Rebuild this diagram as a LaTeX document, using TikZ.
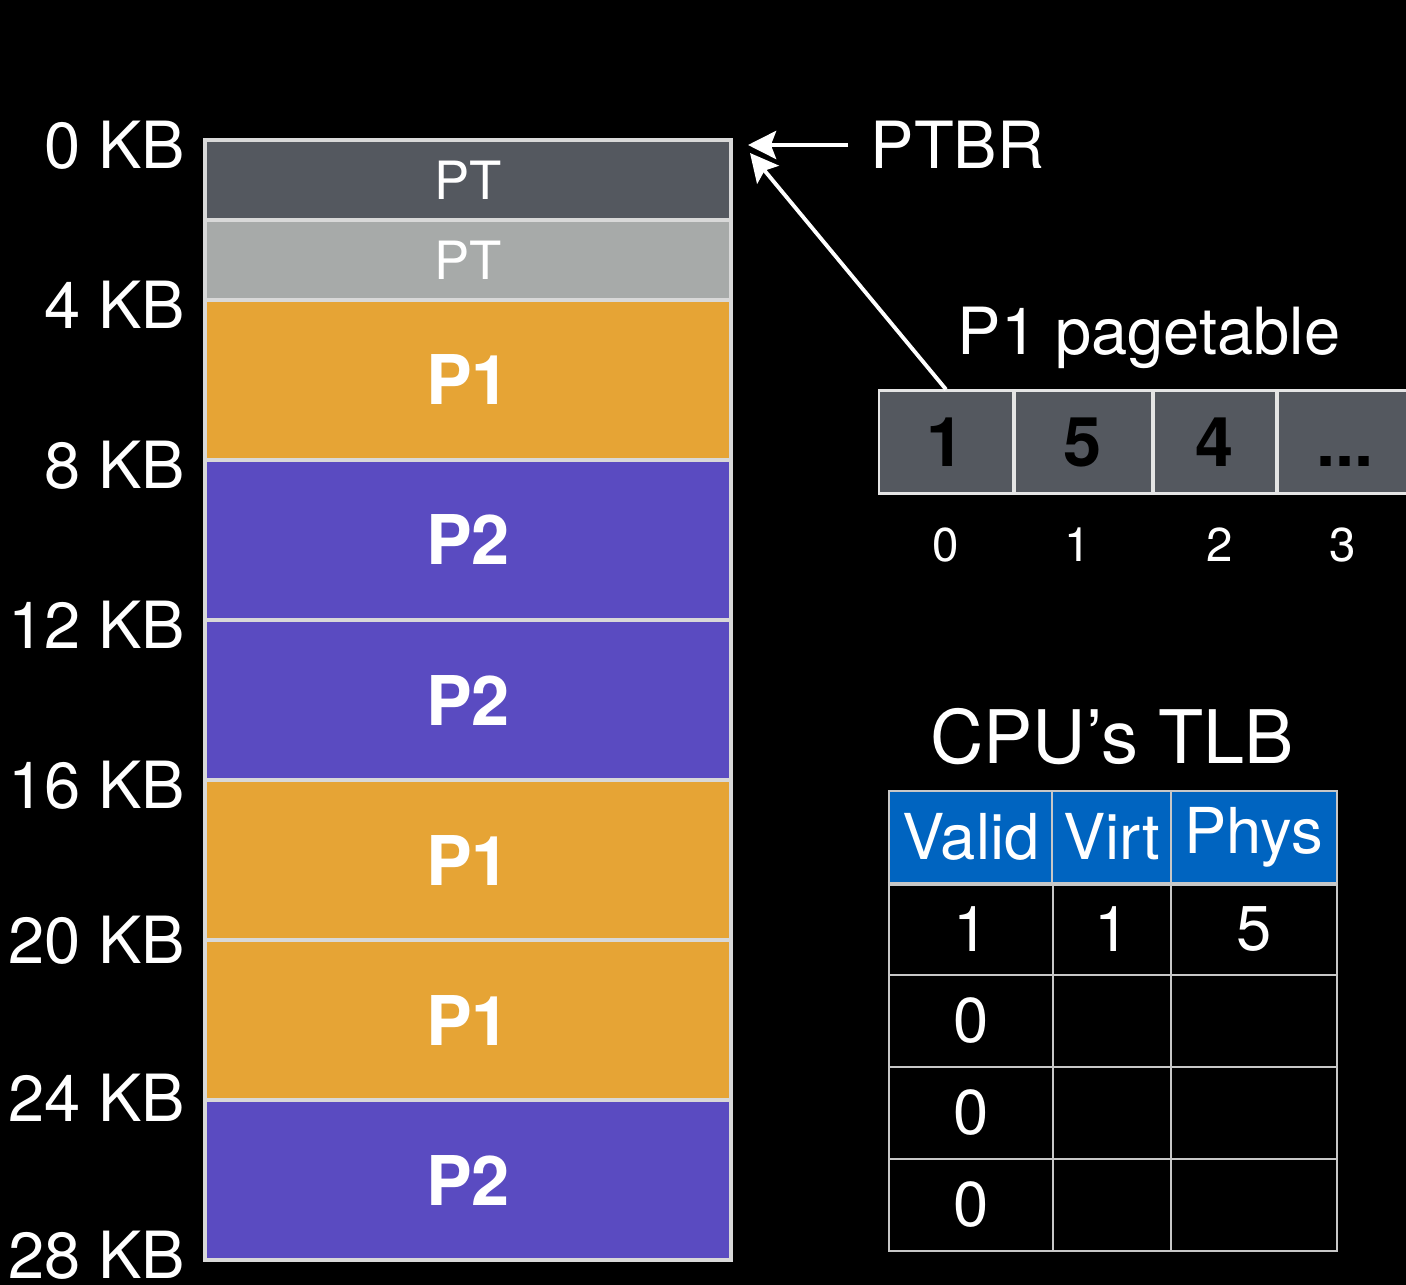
\documentclass[tikz,border=0pt]{standalone}
\usepackage{fontspec}
\setmainfont{TeX Gyre Heros}
\usetikzlibrary{arrows.meta}
\definecolor{ptdark}{HTML}{54585F}
\definecolor{ptlight}{HTML}{A7AAA9}
\definecolor{pone}{HTML}{E6A435}
\definecolor{ptwo}{HTML}{5A4BC1}
\definecolor{tlbblue}{HTML}{0064C0}
\definecolor{rim}{HTML}{D8D8D8}

\begin{document}
\begin{tikzpicture}[x=0.01cm,y=-0.01cm,
    block/.style={draw=rim,line width=1.1pt,minimum width=5.26cm,text=white},
    ptblock/.style={block,minimum height=0.8cm,font=\fontsize{15}{18}\selectfont},
    pblock/.style={block,minimum height=1.6cm,font=\fontsize{19.5}{23}\selectfont\bfseries},
    kb/.style={anchor=east,inner sep=0pt,text=white,font=\fontsize{18.5}{22}\selectfont},
    cell/.style={draw=white!90!black,line width=0.6pt,fill=ptdark,minimum height=1.03cm,
      font=\fontsize{19.5}{23}\selectfont\bfseries},
    idx/.style={text=white,font=\fontsize{13.5}{16}\selectfont},
    tlb/.style={draw=white!78!black,line width=0.6pt,text=white,minimum height=0.915cm,
      font=\fontsize{18}{22}\selectfont},
    arr/.style={white,line width=1.1pt,-{Stealth[length=8pt,width=8pt,inset=1.5pt]}}]
  \fill[black] (0,0) rectangle (1406,1285);
  \useasboundingbox (0,0) rectangle (1406,1285);
  % physical memory
  \node[ptblock,fill=ptdark] (pta) at (468,180) {PT};
  \node[ptblock,fill=ptlight] (ptb) at (468,260) {PT};
  \node[pblock,fill=pone] (m1) at (468,380) {P1};
  \node[pblock,fill=ptwo] (m2) at (468,540) {P2};
  \node[pblock,fill=ptwo] (m3) at (468,700) {P2};
  \node[pblock,fill=pone] (m4) at (468,860) {P1};
  \node[pblock,fill=pone] (m5) at (468,1020) {P1};
  \node[pblock,fill=ptwo] (m6) at (468,1180) {P2};
  \node[kb] (kb0) at (186,145) {0 KB};
  \node[kb] (kb4) at (186,305) {4 KB};
  \node[kb] (kb8) at (186,465) {8 KB};
  \node[kb] (kb12) at (186,625) {12 KB};
  \node[kb] (kb16) at (186,785) {16 KB};
  \node[kb] (kb20) at (186,940) {20 KB};
  \node[kb] (kb24) at (186,1098) {24 KB};
  \node[kb] (kb28) at (186,1255) {28 KB};
  % PTBR
  \node[anchor=west,inner sep=0pt,text=white,font=\fontsize{18.5}{22}\selectfont] (ptbr) at (870,145) {PTBR};
  \coordinate (ptbrtip) at (748,145);
  \coordinate (tabletip) at (750,153);
  \draw[arr] (ptbr.west) ++(-22,0) -- (ptbrtip);
  % P1 pagetable
  \node[text=white,font=\fontsize{18.5}{22}\selectfont] (pttitle) at (1149,338) {P1 pagetable};
  \node[cell,minimum width=1.34cm] (pt0) at (946,442) {1};
  \node[cell,minimum width=1.37cm] (pt1) at (1083,442) {5};
  \node[cell,minimum width=1.22cm] (pt2) at (1215,442) {4};
  \node[cell,minimum width=1.34cm] (pt3) at (1345,442) {\vphantom{1}...};
  \node[idx] (i0) at (946,545) {0};
  \node[idx] (i1) at (1078,545) {1};
  \node[idx] (i2) at (1220,545) {2};
  \node[idx] (i3) at (1343,545) {3};
  \draw[arr] (pt0.north) -- (tabletip);
  % TLB
  \node[text=white,font=\fontsize{21}{25}\selectfont] (tlbtitle) at (1112,737) {CPU’s TLB};
  \node[tlb,fill=tlbblue,minimum width=1.64cm] (hv) at (971,837) {Valid};
  \node[tlb,fill=tlbblue,minimum width=1.18cm] (hr) at (1112,837) {Virt};
  \node[tlb,fill=tlbblue,minimum width=1.66cm] (hp) at (1254,837) {Phys};
  \foreach \r/\y/\v/\a/\b in {1/929/1/1/5,2/1021/0//,3/1113/0//,4/1205/0//}{
    \node[tlb,minimum width=1.64cm] (v\r) at (971,\y) {\v};
    \node[tlb,minimum width=1.18cm] (a\r) at (1112,\y) {\a};
    \node[tlb,minimum width=1.66cm] (b\r) at (1254,\y) {\b};
  }
  \draw[draw=white!78!black,line width=1.2pt] (hv.south west) -- (hp.south east);
\end{tikzpicture}
\end{document}
